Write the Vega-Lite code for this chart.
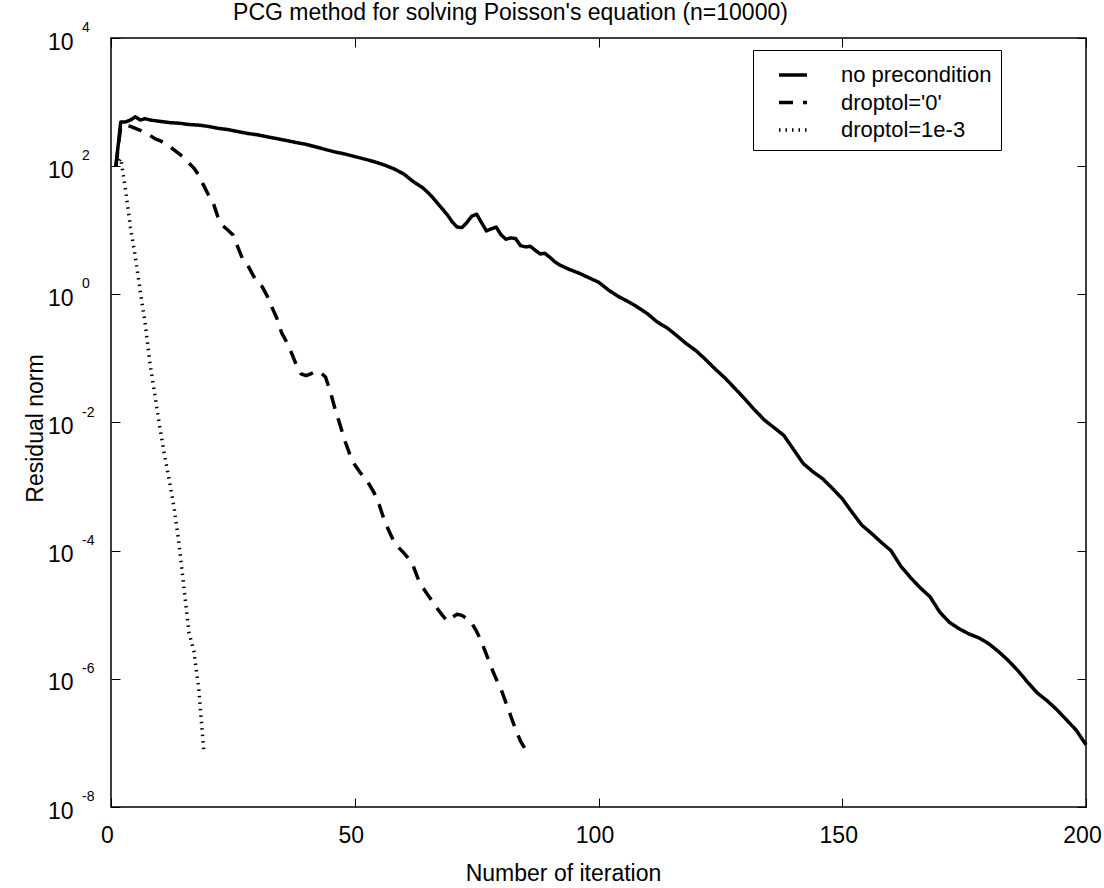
{
"$schema": "https://vega.github.io/schema/vega-lite/v6.json",
"width": 975, "height": 769,
"autosize": {"type": "none"},
"padding": {"left": 111, "top": 38, "right": 18, "bottom": 81},
"background": "white",
"config": {
  "font": "Liberation Sans",
  "view": {"stroke": "black", "strokeWidth": 1.5},
  "axis": {"grid": false, "domain": false, "ticks": true, "tickColor": "black", "tickSize": -9, "tickWidth": 1, "labelColor": "black", "labelFont": "Liberation Sans", "labelFontSize": 23, "titleFont": "Liberation Sans", "titleFontSize": 23, "titleFontWeight": "normal", "titleColor": "black", "labelFlush": false, "labelOverlap": false},
  "legend": {"orient": "none", "legendX": 642, "legendY": 12, "padding": 9, "strokeColor": "black", "fillColor": "white", "symbolType": "stroke", "symbolSize": 784, "symbolOffset": 15, "labelFontSize": 22, "labelFont": "Liberation Sans", "labelColor": "black", "rowPadding": 0.5, "labelOffset": 32, "symbolStrokeColor": "black"}
},
"title": {"text": "PCG method for solving Poisson's equation (n=10000)", "anchor": "middle", "frame": "group", "dx": -88, "dy": 22, "offset": 0, "baseline": "alphabetic", "fontSize": 23, "fontWeight": "normal", "font": "Liberation Sans", "color": "black"},
"datasets": {
  "exps": [
    {"tick": 1e4, "exponent": "4"}, {"tick": 1e2, "exponent": "2"}, {"tick": 1, "exponent": "0"},
    {"tick": 1e-2, "exponent": "-2"}, {"tick": 1e-4, "exponent": "-4"}, {"tick": 1e-6, "exponent": "-6"}, {"tick": 1e-8, "exponent": "-8"}
  ],
  "res": [
    {"series": "no precondition", "iteration": 1, "residual": 100},
    {"series": "no precondition", "iteration": 2, "residual": 490},
    {"series": "no precondition", "iteration": 3, "residual": 490},
    {"series": "no precondition", "iteration": 4, "residual": 525},
    {"series": "no precondition", "iteration": 5, "residual": 589},
    {"series": "no precondition", "iteration": 6, "residual": 525},
    {"series": "no precondition", "iteration": 7, "residual": 550},
    {"series": "no precondition", "iteration": 8, "residual": 525},
    {"series": "no precondition", "iteration": 9, "residual": 513},
    {"series": "no precondition", "iteration": 10, "residual": 501},
    {"series": "no precondition", "iteration": 12, "residual": 479},
    {"series": "no precondition", "iteration": 14, "residual": 468},
    {"series": "no precondition", "iteration": 16, "residual": 447},
    {"series": "no precondition", "iteration": 18, "residual": 437},
    {"series": "no precondition", "iteration": 20, "residual": 417},
    {"series": "no precondition", "iteration": 22, "residual": 389},
    {"series": "no precondition", "iteration": 24, "residual": 372},
    {"series": "no precondition", "iteration": 26, "residual": 347},
    {"series": "no precondition", "iteration": 28, "residual": 324},
    {"series": "no precondition", "iteration": 30, "residual": 309},
    {"series": "no precondition", "iteration": 32, "residual": 288},
    {"series": "no precondition", "iteration": 34, "residual": 269},
    {"series": "no precondition", "iteration": 36, "residual": 251},
    {"series": "no precondition", "iteration": 38, "residual": 234},
    {"series": "no precondition", "iteration": 40, "residual": 219},
    {"series": "no precondition", "iteration": 42, "residual": 200},
    {"series": "no precondition", "iteration": 44, "residual": 182},
    {"series": "no precondition", "iteration": 46, "residual": 166},
    {"series": "no precondition", "iteration": 48, "residual": 155},
    {"series": "no precondition", "iteration": 50, "residual": 141},
    {"series": "no precondition", "iteration": 52, "residual": 129},
    {"series": "no precondition", "iteration": 54, "residual": 117.5},
    {"series": "no precondition", "iteration": 56, "residual": 104.7},
    {"series": "no precondition", "iteration": 58, "residual": 91.2},
    {"series": "no precondition", "iteration": 60, "residual": 75.9},
    {"series": "no precondition", "iteration": 62, "residual": 57.5},
    {"series": "no precondition", "iteration": 64, "residual": 45.7},
    {"series": "no precondition", "iteration": 65, "residual": 38.9},
    {"series": "no precondition", "iteration": 66, "residual": 32.4},
    {"series": "no precondition", "iteration": 67, "residual": 26.3},
    {"series": "no precondition", "iteration": 68, "residual": 21.4},
    {"series": "no precondition", "iteration": 69, "residual": 17.4},
    {"series": "no precondition", "iteration": 70, "residual": 13.5},
    {"series": "no precondition", "iteration": 71, "residual": 11.2},
    {"series": "no precondition", "iteration": 72, "residual": 11.0},
    {"series": "no precondition", "iteration": 73, "residual": 13.2},
    {"series": "no precondition", "iteration": 74, "residual": 16.6},
    {"series": "no precondition", "iteration": 75, "residual": 17.8},
    {"series": "no precondition", "iteration": 76, "residual": 13.2},
    {"series": "no precondition", "iteration": 77, "residual": 9.77},
    {"series": "no precondition", "iteration": 78, "residual": 10.5},
    {"series": "no precondition", "iteration": 79, "residual": 11.2},
    {"series": "no precondition", "iteration": 80, "residual": 8.51},
    {"series": "no precondition", "iteration": 81, "residual": 7.24},
    {"series": "no precondition", "iteration": 82, "residual": 7.59},
    {"series": "no precondition", "iteration": 83, "residual": 7.41},
    {"series": "no precondition", "iteration": 84, "residual": 5.75},
    {"series": "no precondition", "iteration": 85, "residual": 5.5},
    {"series": "no precondition", "iteration": 86, "residual": 5.62},
    {"series": "no precondition", "iteration": 87, "residual": 4.9},
    {"series": "no precondition", "iteration": 88, "residual": 4.27},
    {"series": "no precondition", "iteration": 89, "residual": 4.37},
    {"series": "no precondition", "iteration": 90, "residual": 3.8},
    {"series": "no precondition", "iteration": 91, "residual": 3.24},
    {"series": "no precondition", "iteration": 92, "residual": 2.88},
    {"series": "no precondition", "iteration": 94, "residual": 2.45},
    {"series": "no precondition", "iteration": 96, "residual": 2.14},
    {"series": "no precondition", "iteration": 98, "residual": 1.82},
    {"series": "no precondition", "iteration": 100, "residual": 1.55},
    {"series": "no precondition", "iteration": 102, "residual": 1.175},
    {"series": "no precondition", "iteration": 104, "residual": 0.933},
    {"series": "no precondition", "iteration": 106, "residual": 0.776},
    {"series": "no precondition", "iteration": 108, "residual": 0.631},
    {"series": "no precondition", "iteration": 110, "residual": 0.501},
    {"series": "no precondition", "iteration": 112, "residual": 0.372},
    {"series": "no precondition", "iteration": 114, "residual": 0.302},
    {"series": "no precondition", "iteration": 116, "residual": 0.229},
    {"series": "no precondition", "iteration": 118, "residual": 0.17},
    {"series": "no precondition", "iteration": 120, "residual": 0.132},
    {"series": "no precondition", "iteration": 122, "residual": 0.0955},
    {"series": "no precondition", "iteration": 124, "residual": 0.0676},
    {"series": "no precondition", "iteration": 126, "residual": 0.049},
    {"series": "no precondition", "iteration": 128, "residual": 0.0339},
    {"series": "no precondition", "iteration": 130, "residual": 0.0234},
    {"series": "no precondition", "iteration": 132, "residual": 0.0158},
    {"series": "no precondition", "iteration": 134, "residual": 0.011},
    {"series": "no precondition", "iteration": 136, "residual": 0.00832},
    {"series": "no precondition", "iteration": 138, "residual": 0.00631},
    {"series": "no precondition", "iteration": 140, "residual": 0.0038},
    {"series": "no precondition", "iteration": 142, "residual": 0.00229},
    {"series": "no precondition", "iteration": 144, "residual": 0.0017},
    {"series": "no precondition", "iteration": 146, "residual": 0.00132},
    {"series": "no precondition", "iteration": 148, "residual": 0.000933},
    {"series": "no precondition", "iteration": 150, "residual": 0.000646},
    {"series": "no precondition", "iteration": 152, "residual": 0.000398},
    {"series": "no precondition", "iteration": 154, "residual": 0.000251},
    {"series": "no precondition", "iteration": 156, "residual": 0.000186},
    {"series": "no precondition", "iteration": 158, "residual": 0.000135},
    {"series": "no precondition", "iteration": 160, "residual": 0.0001},
    {"series": "no precondition", "iteration": 162, "residual": 5.75e-5},
    {"series": "no precondition", "iteration": 164, "residual": 3.8e-5},
    {"series": "no precondition", "iteration": 166, "residual": 2.63e-5},
    {"series": "no precondition", "iteration": 168, "residual": 1.91e-5},
    {"series": "no precondition", "iteration": 170, "residual": 1.1e-5},
    {"series": "no precondition", "iteration": 172, "residual": 7.59e-6},
    {"series": "no precondition", "iteration": 174, "residual": 6.03e-6},
    {"series": "no precondition", "iteration": 176, "residual": 5.01e-6},
    {"series": "no precondition", "iteration": 178, "residual": 4.37e-6},
    {"series": "no precondition", "iteration": 180, "residual": 3.55e-6},
    {"series": "no precondition", "iteration": 182, "residual": 2.69e-6},
    {"series": "no precondition", "iteration": 184, "residual": 1.95e-6},
    {"series": "no precondition", "iteration": 186, "residual": 1.35e-6},
    {"series": "no precondition", "iteration": 188, "residual": 8.91e-7},
    {"series": "no precondition", "iteration": 190, "residual": 6.03e-7},
    {"series": "no precondition", "iteration": 192, "residual": 4.57e-7},
    {"series": "no precondition", "iteration": 194, "residual": 3.31e-7},
    {"series": "no precondition", "iteration": 196, "residual": 2.29e-7},
    {"series": "no precondition", "iteration": 198, "residual": 1.58e-7},
    {"series": "no precondition", "iteration": 200, "residual": 9.33e-8},

    {"series": "droptol='0'", "iteration": 1, "residual": 100},
    {"series": "droptol='0'", "iteration": 2, "residual": 417},
    {"series": "droptol='0'", "iteration": 3, "residual": 437},
    {"series": "droptol='0'", "iteration": 4, "residual": 417},
    {"series": "droptol='0'", "iteration": 5, "residual": 389},
    {"series": "droptol='0'", "iteration": 6, "residual": 363},
    {"series": "droptol='0'", "iteration": 7, "residual": 331},
    {"series": "droptol='0'", "iteration": 8, "residual": 302},
    {"series": "droptol='0'", "iteration": 9, "residual": 269},
    {"series": "droptol='0'", "iteration": 10, "residual": 251},
    {"series": "droptol='0'", "iteration": 11, "residual": 229},
    {"series": "droptol='0'", "iteration": 12, "residual": 204},
    {"series": "droptol='0'", "iteration": 13, "residual": 178},
    {"series": "droptol='0'", "iteration": 14, "residual": 155},
    {"series": "droptol='0'", "iteration": 15, "residual": 135},
    {"series": "droptol='0'", "iteration": 16, "residual": 112},
    {"series": "droptol='0'", "iteration": 17, "residual": 93.3},
    {"series": "droptol='0'", "iteration": 18, "residual": 72.4},
    {"series": "droptol='0'", "iteration": 19, "residual": 50.1},
    {"series": "droptol='0'", "iteration": 20, "residual": 35.5},
    {"series": "droptol='0'", "iteration": 21, "residual": 26.3},
    {"series": "droptol='0'", "iteration": 22, "residual": 15.5},
    {"series": "droptol='0'", "iteration": 23, "residual": 11.7},
    {"series": "droptol='0'", "iteration": 24, "residual": 10.0},
    {"series": "droptol='0'", "iteration": 25, "residual": 8.51},
    {"series": "droptol='0'", "iteration": 26, "residual": 5.5},
    {"series": "droptol='0'", "iteration": 27, "residual": 3.55},
    {"series": "droptol='0'", "iteration": 28, "residual": 2.88},
    {"series": "droptol='0'", "iteration": 29, "residual": 2.09},
    {"series": "droptol='0'", "iteration": 30, "residual": 1.51},
    {"series": "droptol='0'", "iteration": 31, "residual": 1.32},
    {"series": "droptol='0'", "iteration": 32, "residual": 0.955},
    {"series": "droptol='0'", "iteration": 33, "residual": 0.631},
    {"series": "droptol='0'", "iteration": 34, "residual": 0.427},
    {"series": "droptol='0'", "iteration": 35, "residual": 0.251},
    {"series": "droptol='0'", "iteration": 36, "residual": 0.182},
    {"series": "droptol='0'", "iteration": 37, "residual": 0.123},
    {"series": "droptol='0'", "iteration": 38, "residual": 0.0794},
    {"series": "droptol='0'", "iteration": 39, "residual": 0.0575},
    {"series": "droptol='0'", "iteration": 40, "residual": 0.0537},
    {"series": "droptol='0'", "iteration": 41, "residual": 0.0575},
    {"series": "droptol='0'", "iteration": 42, "residual": 0.0631},
    {"series": "droptol='0'", "iteration": 43, "residual": 0.0603},
    {"series": "droptol='0'", "iteration": 44, "residual": 0.0513},
    {"series": "droptol='0'", "iteration": 45, "residual": 0.0302},
    {"series": "droptol='0'", "iteration": 46, "residual": 0.0158},
    {"series": "droptol='0'", "iteration": 47, "residual": 0.00912},
    {"series": "droptol='0'", "iteration": 48, "residual": 0.00513},
    {"series": "droptol='0'", "iteration": 49, "residual": 0.00316},
    {"series": "droptol='0'", "iteration": 50, "residual": 0.00219},
    {"series": "droptol='0'", "iteration": 51, "residual": 0.0017},
    {"series": "droptol='0'", "iteration": 52, "residual": 0.00138},
    {"series": "droptol='0'", "iteration": 53, "residual": 0.00107},
    {"series": "droptol='0'", "iteration": 54, "residual": 0.000794},
    {"series": "droptol='0'", "iteration": 55, "residual": 0.000525},
    {"series": "droptol='0'", "iteration": 56, "residual": 0.000309},
    {"series": "droptol='0'", "iteration": 57, "residual": 0.000204},
    {"series": "droptol='0'", "iteration": 58, "residual": 0.000141},
    {"series": "droptol='0'", "iteration": 59, "residual": 0.000112},
    {"series": "droptol='0'", "iteration": 60, "residual": 9.33e-5},
    {"series": "droptol='0'", "iteration": 61, "residual": 7.59e-5},
    {"series": "droptol='0'", "iteration": 62, "residual": 5.75e-5},
    {"series": "droptol='0'", "iteration": 63, "residual": 3.63e-5},
    {"series": "droptol='0'", "iteration": 64, "residual": 2.63e-5},
    {"series": "droptol='0'", "iteration": 65, "residual": 2.04e-5},
    {"series": "droptol='0'", "iteration": 66, "residual": 1.58e-5},
    {"series": "droptol='0'", "iteration": 67, "residual": 1.23e-5},
    {"series": "droptol='0'", "iteration": 68, "residual": 9.77e-6},
    {"series": "droptol='0'", "iteration": 69, "residual": 7.94e-6},
    {"series": "droptol='0'", "iteration": 70, "residual": 9.12e-6},
    {"series": "droptol='0'", "iteration": 71, "residual": 1.02e-5},
    {"series": "droptol='0'", "iteration": 72, "residual": 9.77e-6},
    {"series": "droptol='0'", "iteration": 73, "residual": 8.71e-6},
    {"series": "droptol='0'", "iteration": 74, "residual": 7.41e-6},
    {"series": "droptol='0'", "iteration": 75, "residual": 5.5e-6},
    {"series": "droptol='0'", "iteration": 76, "residual": 3.8e-6},
    {"series": "droptol='0'", "iteration": 77, "residual": 2.4e-6},
    {"series": "droptol='0'", "iteration": 78, "residual": 1.51e-6},
    {"series": "droptol='0'", "iteration": 79, "residual": 1.0e-6},
    {"series": "droptol='0'", "iteration": 80, "residual": 6.92e-7},
    {"series": "droptol='0'", "iteration": 81, "residual": 4.27e-7},
    {"series": "droptol='0'", "iteration": 82, "residual": 2.63e-7},
    {"series": "droptol='0'", "iteration": 83, "residual": 1.62e-7},
    {"series": "droptol='0'", "iteration": 84, "residual": 1.07e-7},
    {"series": "droptol='0'", "iteration": 85, "residual": 7.94e-8},

    {"series": "droptol=1e-3", "iteration": 1, "residual": 100},
    {"series": "droptol=1e-3", "iteration": 2, "residual": 132},
    {"series": "droptol=1e-3", "iteration": 3, "residual": 41.7},
    {"series": "droptol=1e-3", "iteration": 4, "residual": 11.0},
    {"series": "droptol=1e-3", "iteration": 5, "residual": 3.8},
    {"series": "droptol=1e-3", "iteration": 6, "residual": 1.12},
    {"series": "droptol=1e-3", "iteration": 7, "residual": 0.355},
    {"series": "droptol=1e-3", "iteration": 8, "residual": 0.0832},
    {"series": "droptol=1e-3", "iteration": 9, "residual": 0.0269},
    {"series": "droptol=1e-3", "iteration": 10, "residual": 0.00851},
    {"series": "droptol=1e-3", "iteration": 11, "residual": 0.00302},
    {"series": "droptol=1e-3", "iteration": 12, "residual": 0.0012},
    {"series": "droptol=1e-3", "iteration": 13, "residual": 0.000437},
    {"series": "droptol=1e-3", "iteration": 14, "residual": 0.00012},
    {"series": "droptol=1e-3", "iteration": 15, "residual": 2.51e-5},
    {"series": "droptol=1e-3", "iteration": 16, "residual": 5.25e-6},
    {"series": "droptol=1e-3", "iteration": 17, "residual": 2.69e-6},
    {"series": "droptol=1e-3", "iteration": 18, "residual": 7.0e-7},
    {"series": "droptol=1e-3", "iteration": 19, "residual": 8.0e-8}
  ]
},
"layer": [
  {
    "data": {"name": "res"},
    "mark": {"type": "line", "strokeCap": "butt", "strokeJoin": "round"},
    "encoding": {
      "x": {"field": "iteration", "type": "quantitative", "scale": {"domain": [0, 200], "nice": false, "zero": false},
            "axis": {"orient": "bottom", "values": [0, 50, 100, 150, 200], "title": "Number of iteration", "labelPadding": 26, "labelOffset": -4, "titleX": 452, "titleY": 73, "titleBaseline": "alphabetic", "titleAlign": "center"}},
      "y": {"field": "residual", "type": "quantitative", "scale": {"type": "log", "domain": [1e-8, 1e4], "nice": false},
            "axis": {"orient": "left", "values": [10000, 100, 1, 0.01, 0.0001, 0.000001, 0.00000001], "labelExpr": "'10'", "labelAlign": "right", "labelBaseline": "middle", "labelOffset": 4, "labelPadding": 47, "title": "Residual norm", "titleX": -69, "titleY": 390, "titleAngle": -90, "titleBaseline": "alphabetic", "titleAlign": "center"}},
      "color": {"field": "series", "type": "nominal", "title": null, "scale": {"domain": ["no precondition", "droptol='0'", "droptol=1e-3"], "range": ["black", "black", "black"]}},
      "strokeDash": {"field": "series", "type": "nominal", "title": null, "scale": {"domain": ["no precondition", "droptol='0'", "droptol=1e-3"], "range": [[1, 0], [14, 10], [1.5, 5]]}},
      "strokeWidth": {"field": "series", "type": "nominal", "title": null, "scale": {"domain": ["no precondition", "droptol='0'", "droptol=1e-3"], "range": [3.5, 3.5, 1.2]}}
    }
  },
  {
    "data": {"name": "exps"},
    "mark": {"type": "text", "align": "left", "baseline": "middle", "dx": -29, "dy": -10, "fontSize": 14, "font": "Liberation Sans", "color": "black"},
    "encoding": {
      "x": {"datum": 0, "type": "quantitative", "scale": {"domain": [0, 200], "nice": false, "zero": false},
            "axis": {"orient": "top", "values": [0, 50, 100, 150, 200], "labels": false, "title": null}},
      "y": {"field": "tick", "type": "quantitative", "scale": {"type": "log", "domain": [1e-8, 1e4], "nice": false},
            "axis": {"orient": "right", "values": [10000, 100, 1, 0.01, 0.0001, 0.000001, 0.00000001], "labels": false, "title": null}},
      "text": {"field": "exponent", "type": "nominal"}
    }
  }
],
"resolve": {"axis": {"x": "independent", "y": "independent"}}
}
